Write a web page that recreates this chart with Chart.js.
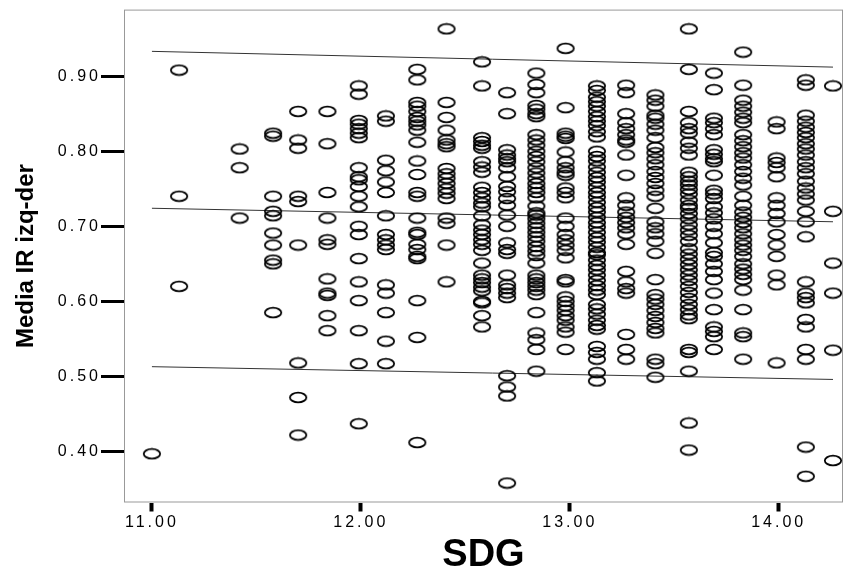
<!DOCTYPE html>
<html>
<head>
<meta charset="utf-8">
<script src="https://cdn.jsdelivr.net/npm/chart.js@4.4.1/dist/chart.umd.min.js"></script>
<style>
  html, body { margin: 0; padding: 0; background: #fff; }
  #irChart { display: block; }
</style>
</head>
<body>
<canvas id="irChart" width="850" height="579"></canvas>
<script>
// SDG column positions
const sdgLevels = [11.00, 11.13, 11.42, 11.58, 11.70, 11.84, 11.99, 12.12, 12.27, 12.41, 12.58, 12.70,
    12.84, 12.98, 13.13, 13.27, 13.41, 13.57, 13.69, 13.83, 13.99, 14.13, 14.26];

// Media IR izq-der, one list per SDG column
const ir1100 = [0.397];
const ir1113 = [0.908, 0.740, 0.620];
const ir1142 = [0.803, 0.778, 0.711];
const ir1158 = [0.824, 0.820, 0.740, 0.720, 0.714, 0.691, 0.675, 0.655, 0.650, 0.585];
const ir1170 = [0.853, 0.815, 0.804, 0.740, 0.733, 0.675, 0.518, 0.472, 0.422];
const ir1184 = [0.853, 0.810, 0.745, 0.711, 0.682, 0.676, 0.630, 0.611, 0.608, 0.581, 0.561];
const ir1199 = [0.887, 0.876, 0.841, 0.836, 0.830, 0.824, 0.818, 0.778, 0.766, 0.762, 0.753, 0.740,
    0.726, 0.700, 0.689, 0.657, 0.626, 0.601, 0.561, 0.517, 0.437];
const ir1212 = [0.847, 0.840, 0.788, 0.774, 0.759, 0.745, 0.714, 0.689, 0.682, 0.675, 0.669, 0.622,
    0.611, 0.585, 0.547, 0.517];
const ir1227 = [0.909, 0.895, 0.865, 0.860, 0.853, 0.845, 0.840, 0.835, 0.828, 0.812, 0.787, 0.769,
    0.745, 0.740, 0.711, 0.692, 0.689, 0.676, 0.669, 0.660, 0.657, 0.601, 0.552, 0.412];
const ir1241 = [0.963, 0.865, 0.845, 0.828, 0.815, 0.810, 0.806, 0.777, 0.770, 0.764, 0.757, 0.750,
    0.744, 0.737, 0.711, 0.704, 0.675, 0.626];
const ir1258 = [0.919, 0.887, 0.818, 0.813, 0.808, 0.804, 0.786, 0.779, 0.772, 0.752, 0.745, 0.738,
    0.731, 0.726, 0.714, 0.702, 0.695, 0.689, 0.682, 0.676, 0.668, 0.651, 0.635, 0.630, 0.625, 0.619,
    0.614, 0.600, 0.598, 0.581, 0.566];
const ir1270 = [0.878, 0.850, 0.802, 0.795, 0.790, 0.786, 0.778, 0.766, 0.753, 0.746, 0.737, 0.728,
    0.715, 0.700, 0.678, 0.669, 0.664, 0.635, 0.622, 0.617, 0.611, 0.605, 0.501, 0.486, 0.474, 0.358];
const ir1284 = [0.904, 0.889, 0.878, 0.861, 0.856, 0.850, 0.846, 0.822, 0.815, 0.808, 0.800, 0.793,
    0.786, 0.778, 0.771, 0.764, 0.757, 0.751, 0.745, 0.738, 0.727, 0.718, 0.715, 0.710, 0.704, 0.698,
    0.692, 0.686, 0.680, 0.673, 0.667, 0.661, 0.651, 0.635, 0.630, 0.625, 0.620, 0.615, 0.609, 0.585,
    0.558, 0.549, 0.536, 0.507];
const ir1298 = [0.937, 0.858, 0.824, 0.820, 0.817, 0.799, 0.786, 0.778, 0.772, 0.768, 0.751, 0.745,
    0.738, 0.711, 0.700, 0.689, 0.682, 0.675, 0.668, 0.658, 0.629, 0.626, 0.606, 0.600, 0.594, 0.588,
    0.581, 0.575, 0.566, 0.559, 0.536];
const ir1313 = [0.887, 0.881, 0.872, 0.866, 0.860, 0.853, 0.846, 0.840, 0.834, 0.826, 0.819, 0.800,
    0.793, 0.787, 0.779, 0.772, 0.765, 0.759, 0.752, 0.745, 0.739, 0.732, 0.725, 0.719, 0.712, 0.705,
    0.699, 0.692, 0.685, 0.679, 0.672, 0.665, 0.662, 0.655, 0.648, 0.642, 0.635, 0.628, 0.621, 0.615,
    0.609, 0.596, 0.590, 0.583, 0.575, 0.568, 0.563, 0.540, 0.532, 0.523, 0.505, 0.494];
const ir1327 = [0.888, 0.878, 0.850, 0.838, 0.830, 0.822, 0.815, 0.812, 0.795, 0.768, 0.738, 0.728,
    0.719, 0.712, 0.705, 0.698, 0.690, 0.676, 0.640, 0.626, 0.617, 0.611, 0.556, 0.536, 0.523];
const ir1341 = [0.875, 0.868, 0.860, 0.848, 0.844, 0.836, 0.828, 0.818, 0.805, 0.798, 0.790, 0.782,
    0.773, 0.765, 0.757, 0.748, 0.740, 0.724, 0.706, 0.698, 0.690, 0.680, 0.664, 0.629, 0.609, 0.603,
    0.596, 0.588, 0.580, 0.572, 0.564, 0.558, 0.523, 0.517, 0.499];
const ir1357 = [0.963, 0.909, 0.853, 0.838, 0.830, 0.824, 0.812, 0.804, 0.795, 0.772, 0.766, 0.760,
    0.755, 0.749, 0.743, 0.735, 0.728, 0.724, 0.717, 0.710, 0.702, 0.695, 0.688, 0.680, 0.670, 0.663,
    0.656, 0.649, 0.642, 0.635, 0.628, 0.620, 0.612, 0.604, 0.596, 0.589, 0.582, 0.577, 0.536, 0.532,
    0.507, 0.438, 0.402];
const ir1369 = [0.904, 0.882, 0.844, 0.838, 0.830, 0.822, 0.802, 0.796, 0.790, 0.786, 0.768, 0.748,
    0.743, 0.737, 0.726, 0.718, 0.710, 0.700, 0.690, 0.678, 0.665, 0.660, 0.650, 0.640, 0.629, 0.611,
    0.589, 0.566, 0.560, 0.553, 0.536];
const ir1383 = [0.932, 0.888, 0.868, 0.860, 0.852, 0.844, 0.838, 0.822, 0.814, 0.806, 0.798, 0.791,
    0.782, 0.773, 0.764, 0.755, 0.740, 0.728, 0.719, 0.712, 0.705, 0.698, 0.690, 0.682, 0.675, 0.668,
    0.660, 0.650, 0.643, 0.636, 0.629, 0.615, 0.589, 0.558, 0.553, 0.523];
const ir1399 = [0.839, 0.830, 0.791, 0.785, 0.778, 0.766, 0.738, 0.728, 0.717, 0.706, 0.689, 0.675,
    0.660, 0.635, 0.622, 0.518];
const ir1413 = [0.895, 0.888, 0.848, 0.840, 0.832, 0.825, 0.818, 0.810, 0.803, 0.795, 0.786, 0.778,
    0.770, 0.760, 0.751, 0.743, 0.735, 0.720, 0.706, 0.686, 0.626, 0.611, 0.605, 0.598, 0.576, 0.566,
    0.536, 0.523, 0.406, 0.367];
const ir1426 = [0.887, 0.720, 0.651, 0.611, 0.535, 0.388];

const irColumns = [ir1100, ir1113, ir1142, ir1158, ir1170, ir1184, ir1199, ir1212, ir1227, ir1241,
    ir1258, ir1270, ir1284, ir1298, ir1313, ir1327, ir1341, ir1357, ir1369, ir1383, ir1399, ir1413, ir1426];

// fit line and interval ends
const fitSdg = [11.00, 14.26];
const fitMean = [0.724, 0.706];
const fitUpper = [0.933, 0.912];
const fitLower = [0.513, 0.496];

const xTicks = [11, 12, 13, 14];
const yTicks = [0.4, 0.5, 0.6, 0.7, 0.8, 0.9];

const points = [];
sdgLevels.forEach((sdg, i) => {
    irColumns[i].forEach(v => points.push({ x: sdg, y: v }));
});

const toLine = (ys) => fitSdg.map((x, i) => ({ x: x, y: ys[i] }));

// flat open ellipse marker
const marker = document.createElement('canvas');
marker.width = 20;
marker.height = 13;
const mctx = marker.getContext('2d');
mctx.strokeStyle = '#000';
mctx.lineWidth = 1.8;
mctx.beginPath();
mctx.ellipse(10, 6.5, 8.2, 4.8, 0, 0, Math.PI * 2);
mctx.stroke();

const frame = {
    id: 'frame',
    beforeDatasetsDraw(chart) {
        const { ctx, chartArea: a } = chart;
        ctx.save();
        ctx.strokeStyle = '#999';
        ctx.lineWidth = 1;
        ctx.strokeRect(a.left + 0.5, a.top + 0.5, a.right - a.left - 1, a.bottom - a.top - 1);
        ctx.restore();
    },
};

// tick labels are drawn wide in the original
const wideTicks = {
    id: 'wideTicks',
    afterDatasetsDraw(chart) { chart.ctx.letterSpacing = '3px'; },
    afterDraw(chart) { chart.ctx.letterSpacing = '0px'; },
};

const tickFont = { family: 'Arial, "Liberation Sans", sans-serif', size: 16 };

new Chart(document.getElementById('irChart'), {
    type: 'scatter',
    data: {
        datasets: [
            {
                data: points,
                pointStyle: marker,
                pointRadius: 6,
                order: 1,
            },
            { data: toLine(fitUpper), showLine: true, borderColor: '#333', borderWidth: 1, pointRadius: 0, order: 2 },
            { data: toLine(fitMean), showLine: true, borderColor: '#333', borderWidth: 1, pointRadius: 0, order: 2 },
            { data: toLine(fitLower), showLine: true, borderColor: '#333', borderWidth: 1, pointRadius: 0, order: 2 },
        ],
    },
    options: {
        responsive: false,
        animation: false,
        layout: { padding: { left: 0, right: 5, top: 9.5, bottom: 0 } },
        plugins: {
            legend: { display: false },
            tooltip: { enabled: false },
        },
        scales: {
            x: {
                type: 'linear',
                min: 10.8663,
                max: 14.3079,
                afterBuildTicks: (scale) => { scale.ticks = xTicks.map(v => ({ value: v })); },
                afterFit: (scale) => { scale.height = 76.5; },
                border: { display: false },
                grid: { drawOnChartArea: false, tickLength: 9, tickWidth: 4, tickColor: '#000' },
                ticks: {
                    z: 1,
                    padding: 1,
                    color: '#000',
                    font: tickFont,
                    maxRotation: 0,
                    callback: (v) => v.toFixed(2),
                },
                title: {
                    display: true,
                    text: 'SDG',
                    color: '#000',
                    font: { family: 'Arial, "Liberation Sans", sans-serif', size: 38, weight: 'bold' },
                    padding: { top: 0, bottom: 1 },
                },
            },
            y: {
                type: 'linear',
                min: 0.3321,
                max: 0.9886,
                afterBuildTicks: (scale) => { scale.ticks = yTicks.map(v => ({ value: v })); },
                afterFit: (scale) => { scale.width = 124; },
                border: { display: false },
                grid: { drawOnChartArea: false, tickLength: 23, tickWidth: 3, tickColor: '#000' },
                ticks: {
                    z: 1,
                    padding: 0,
                    color: '#000',
                    font: tickFont,
                    callback: (v) => v.toFixed(2),
                },
                title: {
                    display: true,
                    text: 'Media IR izq-der',
                    color: '#000',
                    font: { family: 'Arial, "Liberation Sans", sans-serif', size: 24, weight: 'bold' },
                    padding: { top: 12, bottom: 0 },
                },
            },
        },
    },
    plugins: [frame, wideTicks],
});
</script>
</body>
</html>
